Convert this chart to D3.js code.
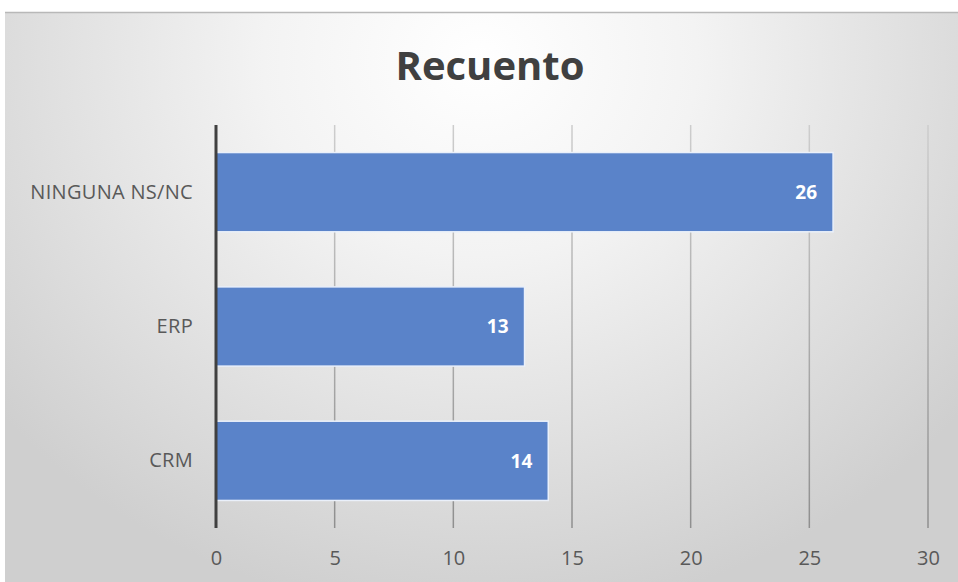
<!DOCTYPE html>
<html>
<head>
<meta charset="utf-8">
<script src="https://cdn.jsdelivr.net/npm/d3@7"></script>
<style>
  html, body { margin: 0; padding: 0; background: #fff; overflow: hidden; }
  text { font-family: "Open Sans", Lato, sans-serif; }
</style>
</head>
<body>
<div id="chart"></div>
<script>
var CATEGORIES = ["NINGUNA NS/NC", "ERP", "CRM"];
var VALUES = [26, 13, 14];
var X_TICKS = [0, 5, 10, 15, 20, 25, 30];
var TITLE = "Recuento";

var WIDTH = 958;
var HEIGHT = 582;
var MARGIN = {left: 216, right: 30, top: 125, bottom: 54};

const renderChart = () => {
    let svg = d3.select("#chart")
        .append("svg")
            .attr("width", WIDTH)
            .attr("height", HEIGHT);

    // Background gradient
    let defs = svg.append("defs");
    let grad = defs.append("radialGradient")
        .attr("id", "bg")
        .attr("gradientUnits", "userSpaceOnUse")
        .attr("cx", 480).attr("cy", 60)
        .attr("r", 620)
        .attr("gradientTransform", "translate(480,60) scale(1,0.9) translate(-480,-60)");
    grad.append("stop").attr("offset", "0").attr("stop-color", "#ffffff");
    grad.append("stop").attr("offset", "0.35").attr("stop-color", "#f3f3f3");
    grad.append("stop").attr("offset", "1").attr("stop-color", "#cfcfcf");

    let gridGrad = defs.append("linearGradient")
        .attr("id", "gridgrad")
        .attr("gradientUnits", "userSpaceOnUse")
        .attr("x1", 0).attr("x2", 0)
        .attr("y1", 0).attr("y2", 528 - MARGIN.top);
    gridGrad.append("stop").attr("offset", "0").attr("stop-color", "#cdcdcd");
    gridGrad.append("stop").attr("offset", "1").attr("stop-color", "#8f8f8f");

    svg.append("rect")
        .attr("x", 5).attr("y", 12)
        .attr("width", WIDTH - 5).attr("height", HEIGHT - 12)
        .attr("fill", "url(#bg)");
    svg.append("line")
        .attr("x1", 5).attr("x2", WIDTH)
        .attr("y1", 12.5).attr("y2", 12.5)
        .attr("stroke", "#b8b8b8").attr("stroke-width", 1.5);

    svg.append("text")
        .attr("x", 490)
        .attr("y", 80)
        .attr("text-anchor", "middle")
        .attr("font-size", 40)
        .attr("font-weight", "bold")
        .attr("fill", "#404040")
        .text(TITLE);

    let plotH = 528 - MARGIN.top;

    let g = svg.append("g")
        .attr("transform", "translate(" + MARGIN.left + "," + MARGIN.top + ")");

    let xScale = d3.scaleLinear().domain([0, 30]).range([0, 928 - 216]);
    let yScale = d3.scaleBand().domain(CATEGORIES).range([0, plotH]).paddingInner(0.41).paddingOuter(0.205);

    // Gridlines
    g.append("g")
        .selectAll("line")
        .data(X_TICKS.filter(t => t > 0))
        .enter()
        .append("line")
            .attr("x1", d => xScale(d)).attr("x2", d => xScale(d))
            .attr("y1", 0).attr("y2", plotH)
            .attr("stroke", "url(#gridgrad)")
            .attr("stroke-width", 1.5);

    // Bars
    g.selectAll(".bar")
        .data(CATEGORIES)
        .enter()
        .append("rect")
            .attr("class", "bar")
            .attr("x", xScale(0))
            .attr("y", d => yScale(d))
            .attr("width", (d, i) => xScale(VALUES[i]) - xScale(0))
            .attr("height", yScale.bandwidth())
            .attr("fill", "#5a83c9")
            .attr("stroke", "#eaf0fa")
            .attr("stroke-width", 1.5);

    // Value labels
    g.selectAll(".val")
        .data(CATEGORIES)
        .enter()
        .append("text")
            .attr("class", "val")
            .attr("x", (d, i) => xScale(VALUES[i]) - 16)
            .attr("y", d => yScale(d) + yScale.bandwidth() / 2)
            .attr("dy", "0.36em")
            .attr("text-anchor", "end")
            .attr("font-size", 19)
            .attr("font-weight", "bold")
            .attr("fill", "#ffffff")
            .text((d, i) => VALUES[i]);

    // Y axis
    let yAxis = g.append("g")
        .call(d3.axisLeft(yScale).tickSize(0).tickPadding(23));
    yAxis.select(".domain").remove();
    yAxis.selectAll(".tick text")
        .attr("font-size", 20)
        .attr("letter-spacing", "0.3px")
        .attr("fill", "#595959");
    g.append("line")
        .attr("x1", 0).attr("x2", 0)
        .attr("y1", 0).attr("y2", plotH)
        .attr("stroke", "#404040")
        .attr("stroke-width", 3);

    // X axis
    let xAxis = g.append("g")
        .attr("transform", "translate(0," + plotH + ")")
        .call(d3.axisBottom(xScale).tickValues(X_TICKS).tickSize(0).tickPadding(23));
    xAxis.select(".domain").remove();
    xAxis.selectAll(".tick text")
        .attr("font-size", 20)
        .attr("fill", "#595959");
}

renderChart();
</script>
</body>
</html>
